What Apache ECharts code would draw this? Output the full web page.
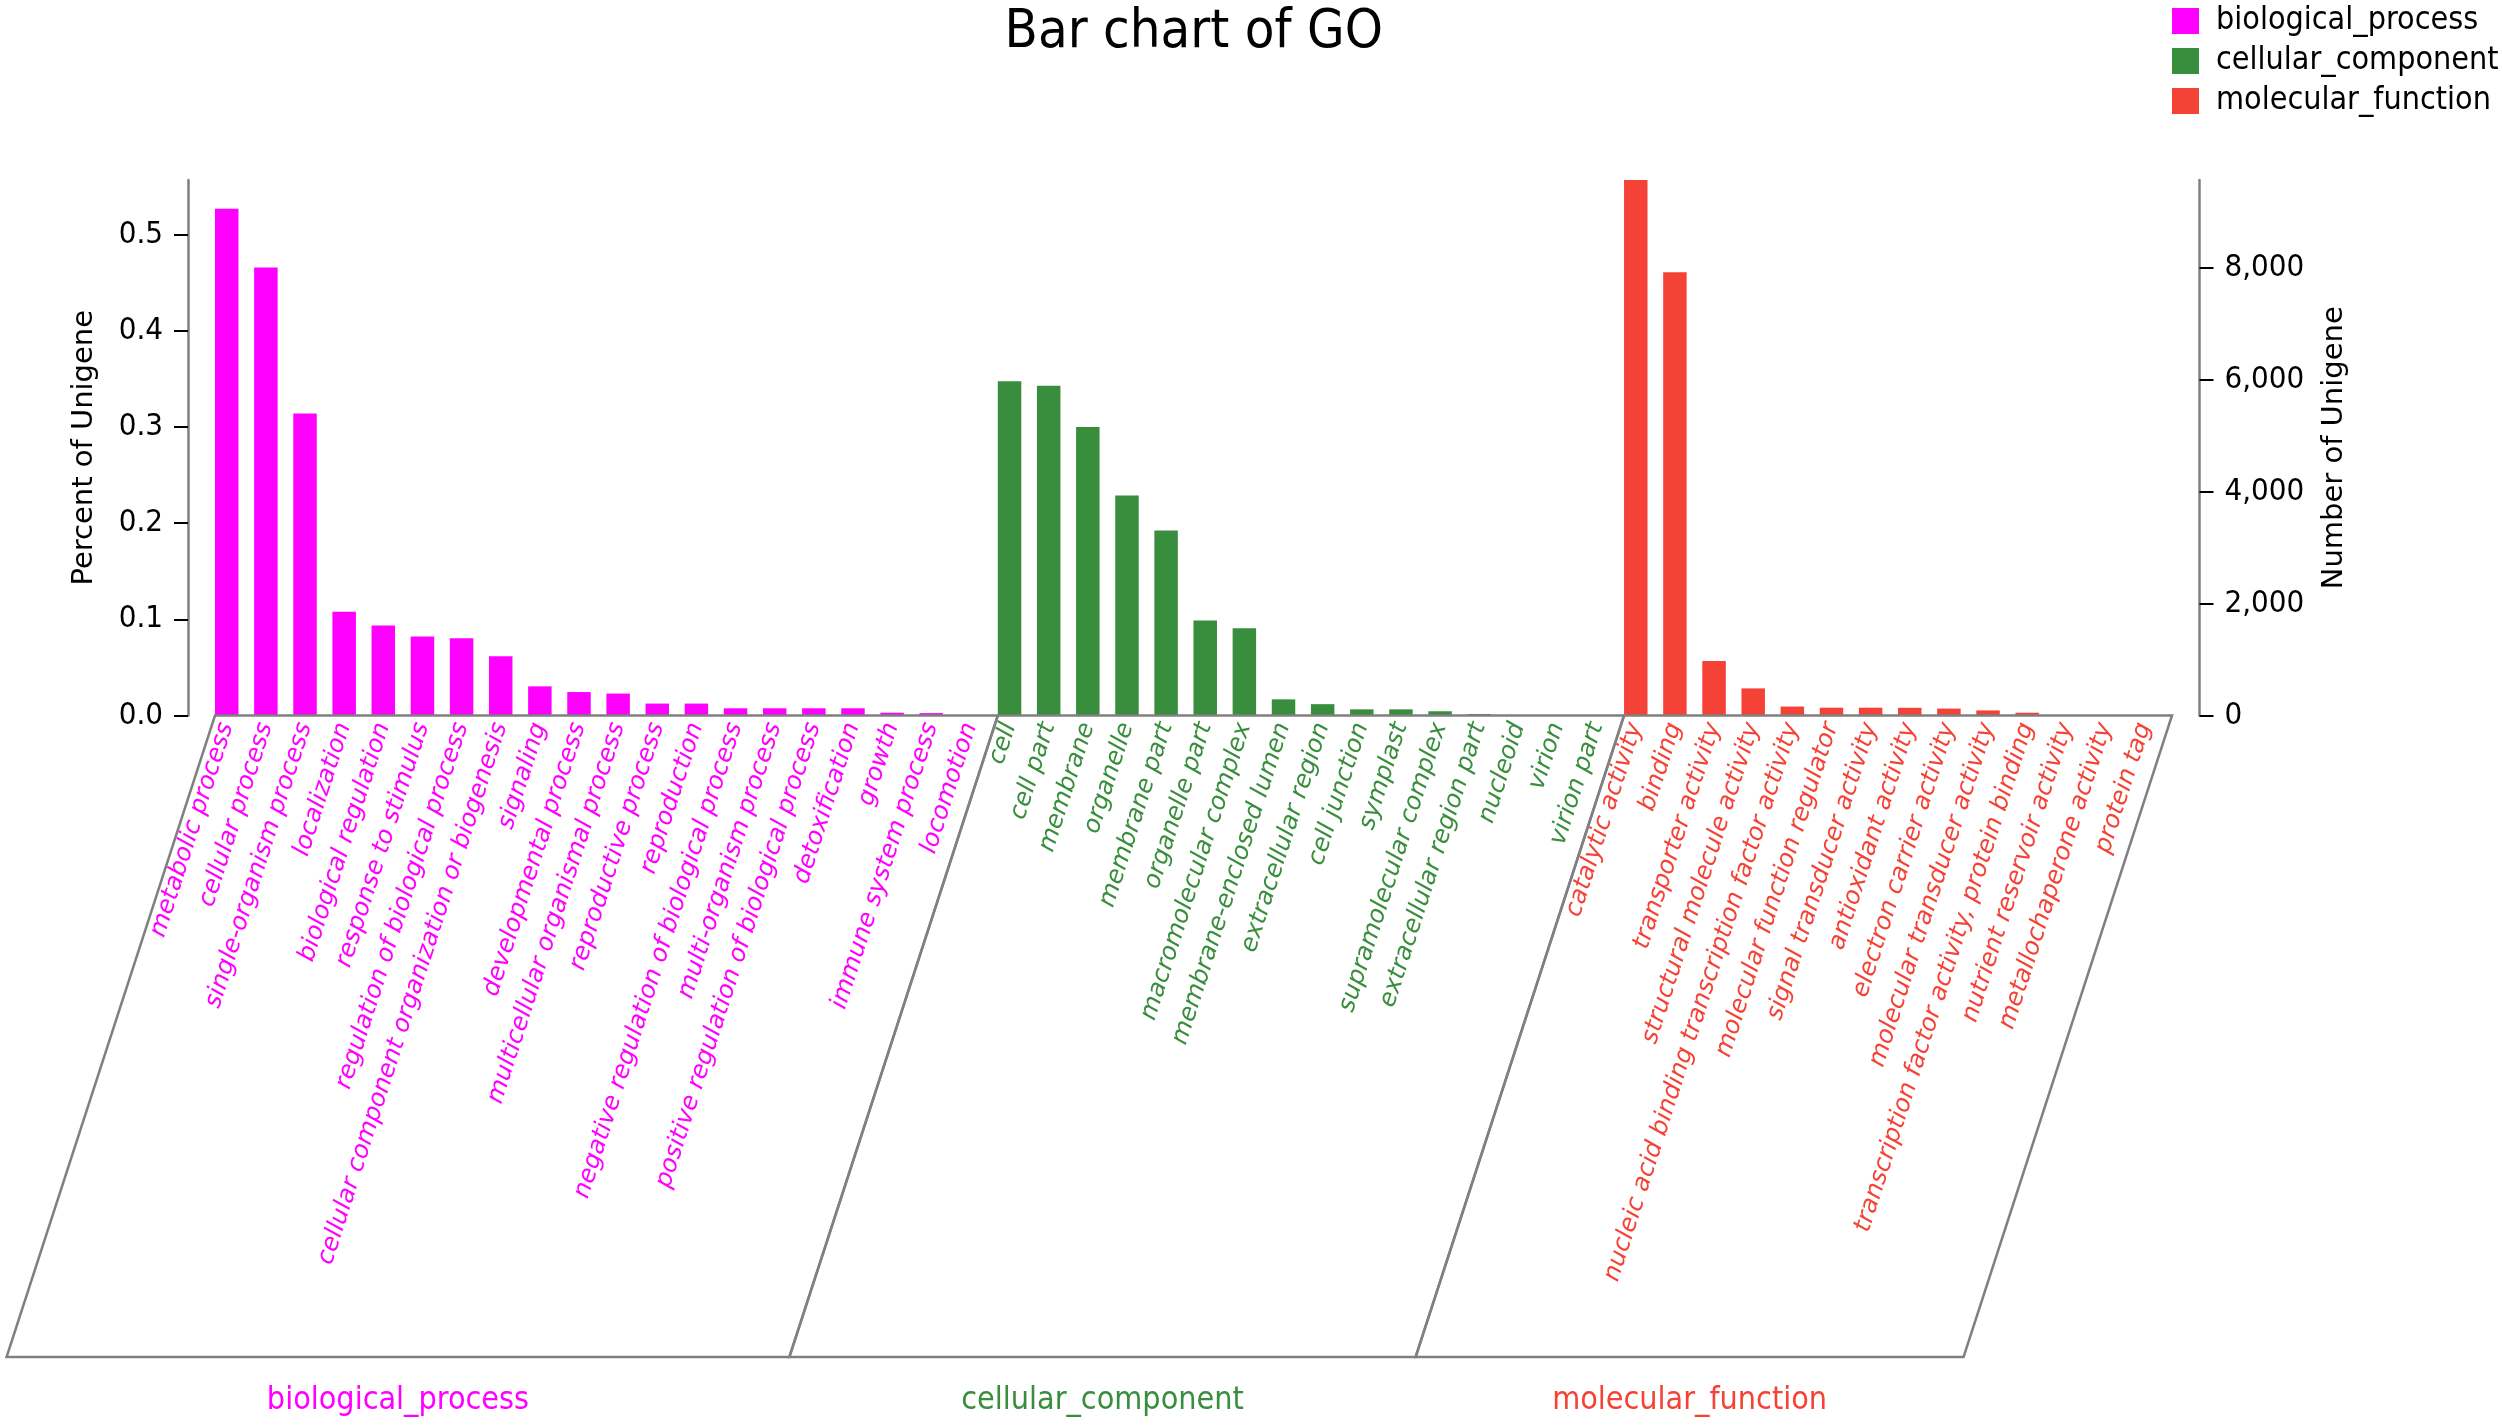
<!DOCTYPE html>
<html><head><meta charset="utf-8">
<script src="https://cdn.jsdelivr.net/npm/echarts@6/dist/echarts.min.js"></script>
<style>html,body{margin:0;padding:0;background:#fff}#chart{width:2503px;height:1426px}</style>
</head><body><div id="chart"></div>
<script>
// ---------------- data ----------------
const groupNames = ['biological_process', 'cellular_component', 'molecular_function'];
const groupColors = ['#FF00FF', '#388E3C', '#F44336'];

const bpNames = ['metabolic process', 'cellular process', 'single-organism process', 'localization',
  'biological regulation', 'response to stimulus', 'regulation of biological process',
  'cellular component organization or biogenesis', 'signaling', 'developmental process',
  'multicellular organismal process', 'reproductive process', 'reproduction',
  'negative regulation of biological process', 'multi-organism process',
  'positive regulation of biological process', 'detoxification', 'growth',
  'immune system process', 'locomotion'];
const bpValues = [0.527, 0.466, 0.314, 0.108, 0.0935, 0.0823, 0.0803, 0.0615, 0.0303, 0.0244,
  0.0228, 0.0124, 0.0124, 0.0075, 0.0075, 0.0075, 0.0075, 0.0029, 0.0025, 0.0004];

const ccNames = ['cell', 'cell part', 'membrane', 'organelle', 'membrane part', 'organelle part',
  'macromolecular complex', 'membrane-enclosed lumen', 'extracellular region', 'cell junction',
  'symplast', 'supramolecular complex', 'extracellular region part', 'nucleoid', 'virion', 'virion part'];
const ccValues = [0.3477, 0.3429, 0.3002, 0.2289, 0.1923, 0.0988, 0.0908, 0.0168, 0.0118, 0.0064,
  0.0064, 0.0044, 0.0016, 0.0003, 0.0002, 0.0002];

const mfNames = ['catalytic activity', 'binding', 'transporter activity', 'structural molecule activity',
  'nucleic acid binding transcription factor activity', 'molecular function regulator',
  'signal transducer activity', 'antioxidant activity', 'electron carrier activity',
  'molecular transducer activity', 'transcription factor activity, protein binding',
  'nutrient reservoir activity', 'metallochaperone activity', 'protein tag'];
const mfValues = [0.557, 0.4611, 0.0566, 0.0282, 0.0093, 0.0081, 0.0081, 0.008, 0.0072, 0.0053,
  0.0029, 0.0005, 0.0001, 0.0001];

const percentTicks = [0, 0.1, 0.2, 0.3, 0.4, 0.5];
const countTicks = [0, 2000, 4000, 6000, 8000];
const percentMax = 0.557;   // top of left axis
const countMax = 9564;      // top of right axis (same level)

// ---------------- font check ----------------
function fontAvailable(name) {
  const c = document.createElement('canvas').getContext('2d');
  const s = 'mmmmmmmmmmlli0123456789';
  c.font = '40px monospace'; const a = c.measureText(s).width;
  c.font = '40px "' + name + '", monospace'; const b = c.measureText(s).width;
  return Math.abs(a - b) > 0.5;
}
const hasCond = fontAvailable('DejaVu Sans Condensed');
const condFont = hasCond ? '"DejaVu Sans Condensed"' : '"DejaVu Sans"';
const condK = hasCond ? 1 : 0.9;

// ---------------- build ----------------
const groups = [bpNames, ccNames, mfNames];
const groupVals = [bpValues, ccValues, mfValues];
const categories = [].concat(bpNames, ccNames, mfNames);
const catGroup = [];
groups.forEach((g, gi) => g.forEach(() => catGroup.push(gi)));
const N = categories.length;

// layout
const frameLeft = 215, frameRight = 2172;
const band = (frameRight - frameLeft) / N;
const gridLeft = frameLeft - 0.2 * band;
const gridRightEdge = frameRight - 0.2 * band;
const W = 2503, H = 1426;
const baseY = 715.5, topY = 180;
const leftAxisX = 188, rightAxisX = 2199.5;

let offset = 0;
const series = groups.map((g, gi) => {
  const data = new Array(N).fill(null);
  groupVals[gi].forEach((v, i) => { data[offset + i] = v; });
  offset += g.length;
  return {
    name: groupNames[gi], type: 'bar', data: data, yAxisIndex: 0,
    barWidth: '60%', barGap: '-100%',
    itemStyle: { color: groupColors[gi] }, silent: true
  };
});

const chart = echarts.init(document.getElementById('chart'), null, { renderer: 'canvas' });
chart.setOption({
  animation: false,
  backgroundColor: '#fff',
  title: {
    text: 'Bar chart of GO', left: (leftAxisX + rightAxisX) / 2, top: 6, textAlign: 'center', padding: 0,
    textStyle: { fontFamily: condFont, fontWeight: 'normal', fontSize: 54 * condK, color: '#000' }
  },
  legend: {
    orient: 'vertical', left: 2172, top: 5, padding: 0,
    itemWidth: 27, itemHeight: 26, itemGap: 8, icon: 'rect',
    data: groupNames,
    textStyle: { fontFamily: condFont, fontSize: 32 * condK, color: '#000', padding: [0, 0, 0, 12] }
  },
  grid: { left: gridLeft, right: W - gridRightEdge, top: topY, bottom: H - baseY, containLabel: false },
  xAxis: {
    type: 'category', data: categories, boundaryGap: true,
    axisLine: { show: false }, axisTick: { show: false },
    axisLabel: {
      interval: 0, rotate: 72, margin: 8,
      fontFamily: '"DejaVu Sans"', fontStyle: 'italic', fontSize: 24.5,
      color: (v, i) => groupColors[catGroup[i]]
    },
    splitLine: { show: false }
  },
  yAxis: [{
    type: 'value', position: 'left', offset: gridLeft - leftAxisX,
    min: 0, max: percentMax,
    axisLine: { show: true, lineStyle: { color: '#808080', width: 2.5 } },
    axisTick: { show: true, length: 14, customValues: percentTicks, lineStyle: { color: '#000', width: 2 } },
    axisLabel: { customValues: percentTicks, formatter: v => v.toFixed(1), margin: 25,
      fontFamily: condFont, fontSize: 31 * condK, color: '#000' },
    splitLine: { show: false },
    name: 'Percent of Unigene', nameLocation: 'middle', nameRotate: 90, nameGap: 89,
    nameTextStyle: { fontFamily: '"DejaVu Sans"', fontSize: 29, color: '#000' }
  }, {
    type: 'value', position: 'right', offset: rightAxisX - gridRightEdge,
    min: 0, max: countMax,
    axisLine: { show: true, lineStyle: { color: '#808080', width: 2.5 } },
    axisTick: { show: true, length: 14, customValues: countTicks, lineStyle: { color: '#000', width: 2 } },
    axisLabel: { customValues: countTicks, formatter: v => v.toLocaleString('en-US'), margin: 25,
      fontFamily: condFont, fontSize: 31 * condK, color: '#000' },
    splitLine: { show: false },
    name: 'Number of Unigene', nameLocation: 'middle', nameRotate: 90, nameGap: 120,
    nameTextStyle: { fontFamily: '"DejaVu Sans"', fontSize: 29, color: '#000' }
  }],
  series: series
});

// ---------------- frames under the axis ----------------
const bottomY = 1357;
const slant = 72 * Math.PI / 180;
const dx = (bottomY - baseY) / Math.tan(slant);
const px = i => chart.convertToPixel({ xAxisIndex: 0 }, i);
const bandPx = px(1) - px(0);
const y0 = chart.convertToPixel({ yAxisIndex: 0 }, 0);
const graphics = [];
let start = 0;
groups.forEach((g, gi) => {
  const xl = px(start) - 0.3 * bandPx;
  const xr = px(start + g.length - 1) + 0.7 * bandPx;
  graphics.push({
    type: 'polygon', silent: true,
    shape: { points: [[xl, y0], [xr, y0], [xr - dx, bottomY], [xl - dx, bottomY]] },
    style: { fill: 'none', stroke: '#808080', lineWidth: 2.5 }, z: 10
  });
  graphics.push({
    type: 'text', silent: true,
    x: (xl + xr) / 2 - dx, y: 1401,
    style: { text: groupNames[gi], fill: groupColors[gi], font: (32 * condK) + 'px ' + condFont,
      textAlign: 'center', textVerticalAlign: 'middle' }
  });
  start += g.length;
});
chart.setOption({ graphic: graphics });
</script>
</body></html>
